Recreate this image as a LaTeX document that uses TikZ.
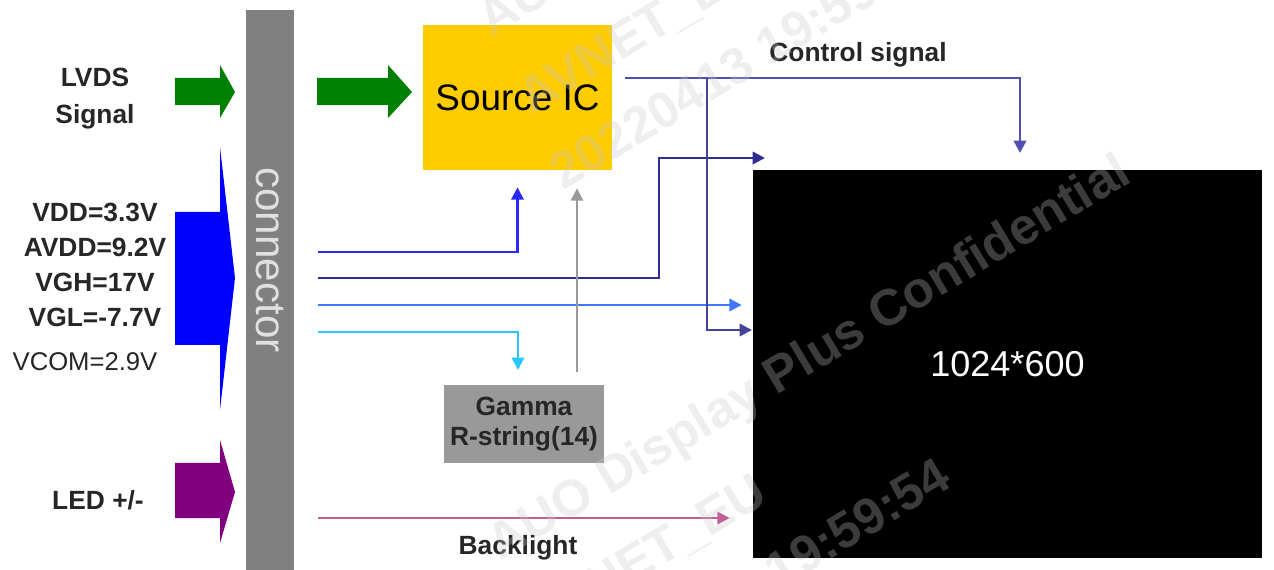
\documentclass[tikz,border=0pt]{standalone}
\usepackage{fontspec}
\setmainfont{Liberation Sans}
\usetikzlibrary{arrows.meta}

\definecolor{lvds}{RGB}{0,128,0}
\definecolor{pwr}{RGB}{0,0,255}
\definecolor{led}{RGB}{128,0,128}
\definecolor{icyel}{RGB}{255,204,0}
\definecolor{bargray}{RGB}{128,128,128}
\definecolor{gamgray}{RGB}{153,153,153}
\definecolor{lnA}{RGB}{40,40,255}
\definecolor{lnB}{RGB}{46,46,146}
\definecolor{lnC}{RGB}{64,120,255}
\definecolor{lnD}{RGB}{40,200,255}
\definecolor{ctrl}{RGB}{80,80,176}
\definecolor{bkl}{RGB}{192,96,150}
\definecolor{wm}{RGB}{200,200,200}

\begin{document}
\begin{tikzpicture}[x=0.02cm,y=-0.02cm,>={Triangle[length=7pt,width=7pt]},
    lbl/.style={font=\bfseries\fontsize{15}{21}\selectfont, align=center, text=black!85},
    wire/.style={line width=1.4pt},
    wmark/.style={font=\bfseries\fontsize{29}{34}\selectfont, text=wm, text opacity=0.3, rotate=31}]
    \useasboundingbox (0,0) rectangle (1274,570);

    % connector bar and big input arrows
    \fill[bargray] (246,10) rectangle (294,575);
    \node[rotate=-90, text=black!12, font=\fontsize{24}{28}\selectfont] (CON) at (270,260) {connector};
    \fill[lvds] (175,78) -- (220,78) -- (220,65) -- (235,92) -- (220,118) -- (220,105) -- (175,105) -- cycle;
    \fill[pwr] (175,212) -- (220,212) -- (220,147) -- (235,278) -- (220,410) -- (220,345) -- (175,345) -- cycle;
    \fill[led] (175,463) -- (220,463) -- (220,440) -- (235,492) -- (220,543) -- (220,518) -- (175,518) -- cycle;
    \fill[lvds] (317,78) -- (388,78) -- (388,65) -- (412,92) -- (388,118) -- (388,105) -- (317,105) -- cycle;

    % labels on the left
    \node[lbl] (LVDS) at (95,99) {LVDS\\Signal};
    \node[lbl, font=\bfseries\fontsize{15}{20}\selectfont] (VOLT) at (95,265) {VDD=3.3V\\AVDD=9.2V\\VGH=17V\\VGL=-7.7V};
    \node[text=black!85, font=\fontsize{14.6}{17}\selectfont] (VCOM) at (85,362) {VCOM=2.9V};
    \node[lbl] (LED) at (98,500) {LED +/-};

    % blocks
    \node[fill=icyel, minimum width=3.78cm, minimum height=2.9cm, font=\fontsize{21}{25}\selectfont] (SRC) at (517.5,97.5) {Source IC};
    \node[fill=gamgray, minimum width=3.04cm, minimum height=1.56cm, lbl, font=\bfseries\fontsize{15}{17}\selectfont] (GAM) at (524,424) {Gamma\\R-string(14)};
    \node[fill=black, minimum width=10.18cm, minimum height=7.76cm, text=white, font=\fontsize{20.5}{24}\selectfont] (LCD) at (1007.5,364) {1024*600};
    \node[lbl] (CTL) at (858,55) {Control signal};
    \node[lbl] (BKL) at (518,548) {Backlight};

    % wire ends
    \coordinate (p1) at (318,252);
    \coordinate (p2) at (318,278);
    \coordinate (p3) at (318,305);
    \coordinate (p4) at (318,332);
    \coordinate (p5) at (318,518);
    \coordinate (b1) at (659,158);
    \coordinate (b2) at (765,158);
    \coordinate (d1) at (518,370);
    \coordinate (g0) at (577,372);
    \coordinate (c0) at (625,78);
    \coordinate (cj) at (707,78);
    \coordinate (c1) at (1020,153);
    \coordinate (cb) at (752,330);

    \draw[wire,lnA,->,shorten >=0.34cm] (p1) -| (SRC.south);
    \draw[wire,lnB,->] (p2) -| (b1) -- (b2);
    \draw[wire,lnC,->,shorten >=0.22cm] (p3) -- (p3 -| LCD.west);
    \draw[wire,lnD,->] (p4) -| (d1);
    \draw[line width=1pt,gamgray,->,shorten >=0.36cm] (g0) -- (g0 |- SRC.south);
    \draw[wire,ctrl,->] (c0) -| (c1);
    \draw[wire,ctrl!85!black,->] (cj) |- (cb);
    \draw[wire,bkl,->,shorten >=0.46cm] (p5) -- (p5 -| LCD.west);

    % watermark
    \begin{scope}
        \clip (0,0) rectangle (1274,570);
        \foreach \dy in {0,-524} {
            \begin{scope}[shift={(-9*\dy/-524,\dy)}]
                \node[wmark] at (810,360) {AUO Display Plus Confidential};
                \node[wmark] at (648,558) {AVNET\_EU};
                \node[wmark] at (754,585) {20220413 19:59:54};
            \end{scope}
        }
    \end{scope}
\end{tikzpicture}
\end{document}
